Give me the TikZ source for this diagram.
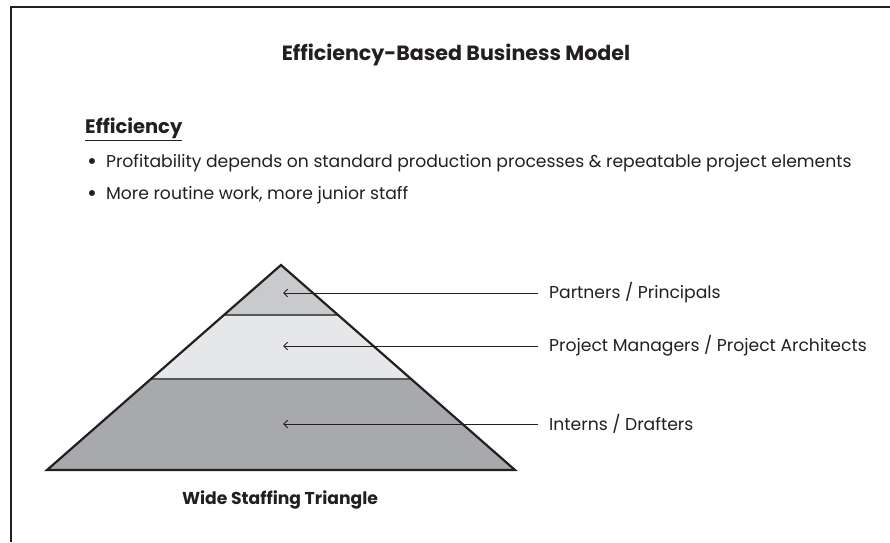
\documentclass[tikz,border=0pt]{standalone}
\usepackage{fontspec}
\setmainfont{Poppins}
\usepackage{xcolor}
\usetikzlibrary{arrows.meta,calc}
\definecolor{inkblack}{RGB}{35,31,32}
\definecolor{tiertop}{RGB}{201,202,204}
\definecolor{tiermid}{RGB}{230,231,232}
\definecolor{tierlow}{RGB}{167,169,172}
\definecolor{tierline}{RGB}{88,89,91}
\definecolor{shadowgray}{RGB}{178,178,180}
\newcommand{\bigdot}{\raisebox{-2.5pt}{\fontsize{24}{24}\selectfont\textbullet}}

\begin{document}
\begin{tikzpicture}[
    x=1pt, y=-1pt,
    heading/.style={font=\fontsize{20.6}{24}\selectfont\bfseries, text=inkblack, inner sep=0pt},
    subhead/.style={font=\fontsize{19.5}{23}\selectfont\bfseries, text=inkblack, inner sep=0pt, anchor=west},
    bullet/.style={font=\fontsize{17.2}{20}\selectfont, text=inkblack, inner sep=0pt, anchor=west},
    lab/.style={font=\fontsize{17.2}{20}\selectfont, text=inkblack, inner xsep=11pt, inner ysep=0pt, anchor=west},
    caption/.style={font=\fontsize{17.2}{20}\selectfont\bfseries, text=inkblack, inner sep=0pt},
    rel/.style={-{Straight Barb[length=4pt, width=7.5pt]}, line width=0.9pt, draw=inkblack}
  ]
    \useasboundingbox (0,0) rectangle (890,542);

    % outer frame
    \draw[line width=1.8pt, draw=inkblack] (11,542) -- (11,7) -- (890,7);

    % text block
    \node[heading] (title) at (456,55) {Efficiency-Based Business Model};
    \node[subhead] (eff) at (85,129) {\underline{Efficiency}};
    \node[bullet] (b1) at (87,163) {\bigdot\hspace{9pt}Profitability depends on standard production processes \& repeatable project elements};
    \node[bullet] (b2) at (87,195) {\bigdot\hspace{9pt}More routine work, more junior staff};

    % staffing triangle
    \coordinate (apex) at (281,265);
    \coordinate (bl) at (47,470);
    \coordinate (br) at (515,470);
    \coordinate (l1) at ($(apex)!0.2439!(bl)$);
    \coordinate (r1) at ($(apex)!0.2439!(br)$);
    \coordinate (l2) at ($(apex)!0.5561!(bl)$);
    \coordinate (r2) at ($(apex)!0.5561!(br)$);

    \fill[shadowgray, shift={(4,4)}] (apex) -- (bl) -- (br) -- cycle;
    \fill[tiertop] (apex) -- (l1) -- (r1) -- cycle;
    \fill[tiermid] (l1) -- (l2) -- (r2) -- (r1) -- cycle;
    \fill[tierlow] (l2) -- (bl) -- (br) -- (r2) -- cycle;
    \draw[tierline, line width=1.2pt] (l1) -- (r1) (l2) -- (r2);
    \draw[inkblack, line width=2.2pt] (apex) -- (bl) -- (br) -- cycle;

    \node[caption] (cap) at (280,500) {Wide Staffing Triangle};

    % tier labels
    \node[lab] (pp) at (538,293) {Partners / Principals};
    \node[lab] (pm) at (538,346) {Project Managers / Project Architects};
    \node[lab] (id) at (538,424) {Interns / Drafters};
    \coordinate (pptip) at (283,293);
    \coordinate (pmtip) at (283,346);
    \coordinate (idtip) at (283,424);

    \draw[rel] (pp.west) -- (pptip);
    \draw[rel] (pm.west) -- (pmtip);
    \draw[rel] (id.west) -- (idtip);
\end{tikzpicture}
\end{document}
